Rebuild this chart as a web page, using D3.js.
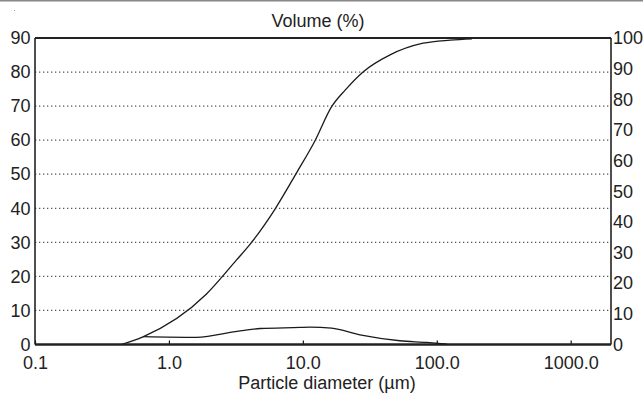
<!DOCTYPE html>
<html lang="en">
<head>
  <meta charset="UTF-8">
  <script src="https://d3js.org/d3.v7.min.js"></script>
  <title>Particle size distribution</title>
  <style>
    body { margin: 0; background: #fff; }
    text { font-family: "Liberation Sans", Arial, sans-serif; fill: #222; }
  </style>
</head>
<body>
  <div id="chart"></div>
  <script>
    // particle diameter (um) and cumulative volume (%), right axis
    const cumDiam = [0.44, 0.64, 1.9, 3.2, 4.0, 6.2, 9.0, 12.3, 16.4, 20.7, 28.3, 44.8, 79, 126, 183];
    const cumVol  = [0, 2.5, 16.4, 27.6, 32.5, 44.2, 56.1, 66.4, 77.6, 83.0, 89.0, 94.5, 98.3, 99.3, 99.7];

    // particle diameter (um) and volume density (%), left axis
    const denDiam = [0.64, 1.6, 3.4, 4.8, 9.5, 11.3, 16.4, 26.7, 53, 84, 119];
    const denVol  = [2.3, 2.1, 4.0, 4.7, 5.0, 5.1, 4.8, 2.8, 1.1, 0.6, 0.1];

    const xTicks = [0.1, 1, 10, 100, 1000];
    const leftTicks = [0, 10, 20, 30, 40, 50, 60, 70, 80, 90];
    const rightTicks = [0, 10, 20, 30, 40, 50, 60, 70, 80, 90, 100];

    const W = 643, H = 394;
    const svg = d3.select('#chart').append('svg')
      .attr('width', W)
      .attr('height', H);

    const x = d3.scaleLog().domain([0.1, 2000]).range([35, 611]);
    const yL = d3.scaleLinear().domain([0, 90]).range([344.5, 38]);
    const yR = d3.scaleLinear().domain([0, 100]).range([344.5, 38]);

    // thin grey rule on top of the picture
    svg.append('line')
      .attr('x1', 0).attr('x2', W).attr('y1', 0.5).attr('y2', 0.5)
      .attr('stroke', '#888').attr('stroke-width', 2);
    svg.append('rect').attr('x', 14).attr('y', 10).attr('width', 1).attr('height', 1).attr('fill', '#999');

    // dotted grid
    svg.append('g').selectAll('line')
      .data(leftTicks.filter(d => d > 0 && d < 90))
      .enter().append('line')
      .attr('x1', x.range()[0]).attr('x2', x.range()[1])
      .attr('y1', d => yL(d)).attr('y2', d => yL(d))
      .attr('stroke', '#555')
      .attr('stroke-width', 1.2)
      .attr('stroke-dasharray', '1.3,2.7');

    // axes (labels only, frame drawn below)
    const gl = svg.append('g')
      .attr('transform', `translate(${x.range()[0]},0)`)
      .call(d3.axisLeft(yL).tickValues(leftTicks).tickSize(0).tickPadding(4.5));
    const gr = svg.append('g')
      .attr('transform', `translate(${x.range()[1]},0)`)
      .call(d3.axisRight(yR).tickValues(rightTicks).tickSize(0).tickPadding(2));
    const gb = svg.append('g')
      .attr('transform', `translate(0,${yL.range()[0]})`)
      .call(d3.axisBottom(x).tickValues(xTicks).tickFormat(d3.format('.1f')).tickSizeInner(-4).tickSizeOuter(0).tickPadding(11.7));

    [gl, gr, gb].forEach(g => {
      g.select('.domain').remove();
      g.selectAll('text').style('font-size', '18px').attr('fill', '#222')
        .style('font-family', '"Liberation Sans", Arial, sans-serif');
      g.selectAll('line').attr('stroke', '#111').attr('stroke-width', 1.2);
    });

    // frame
    const [x0, x1] = x.range();
    const [yb, yt] = yL.range();
    svg.append('line').attr('x1', x0).attr('x2', x1).attr('y1', yt).attr('y2', yt)
      .attr('stroke', '#222').attr('stroke-width', 2);
    svg.append('line').attr('x1', x0).attr('x2', x1).attr('y1', yb).attr('y2', yb)
      .attr('stroke', '#222').attr('stroke-width', 2.5);
    svg.append('line').attr('x1', x0).attr('x2', x0).attr('y1', yt).attr('y2', yb)
      .attr('stroke', '#222').attr('stroke-width', 1.6);
    svg.append('line').attr('x1', x1).attr('x2', x1).attr('y1', yt).attr('y2', yb)
      .attr('stroke', '#222').attr('stroke-width', 1.6);

    // curves
    const cum = cumDiam.map((d, i) => ({ d: d, v: cumVol[i] }));
    const den = denDiam.map((d, i) => ({ d: d, v: denVol[i] }));

    svg.append('path')
      .datum(cum)
      .attr('fill', 'none')
      .attr('stroke', '#1a1a1a')
      .attr('stroke-width', 1.3)
      .attr('d', d3.line().x(p => x(p.d)).y(p => yR(p.v)).curve(d3.curveMonotoneX));

    svg.append('path')
      .datum(den)
      .attr('fill', 'none')
      .attr('stroke', '#1a1a1a')
      .attr('stroke-width', 1.3)
      .attr('d', d3.line().x(p => x(p.d)).y(p => yL(p.v)).curve(d3.curveMonotoneX));

    // titles
    svg.append('text')
      .attr('x', 318).attr('y', 27)
      .attr('text-anchor', 'middle')
      .style('font-size', '18px')
      .text('Volume (%)');
    svg.append('text')
      .attr('x', 327).attr('y', 389)
      .attr('text-anchor', 'middle')
      .style('font-size', '18px')
      .text('Particle diameter (µm)');
  </script>
</body>
</html>
